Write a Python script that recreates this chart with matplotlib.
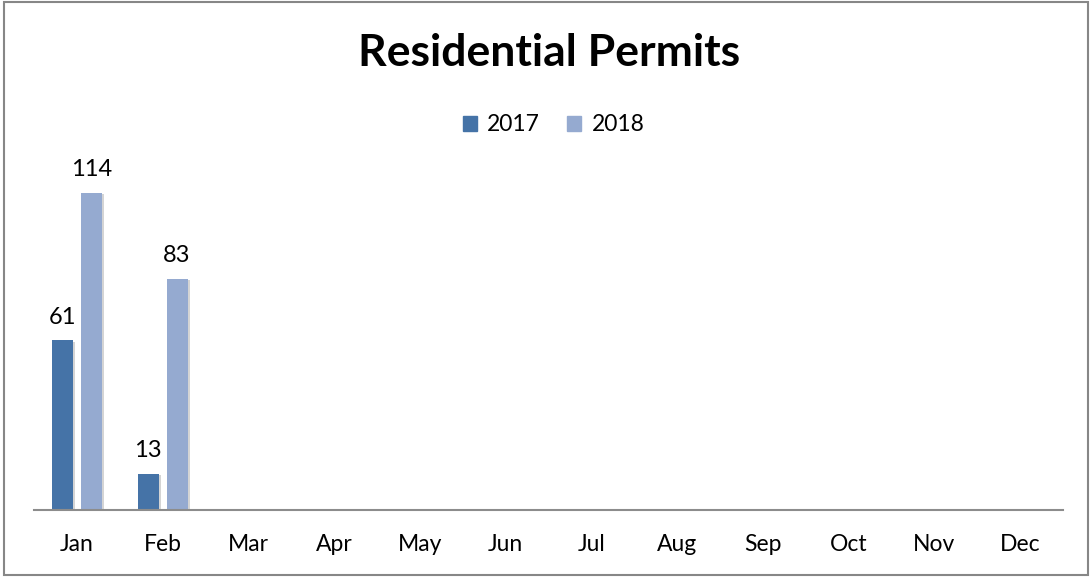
import matplotlib.pyplot as plt
import matplotlib.patheffects as pe
from matplotlib.patches import Rectangle, Patch
import numpy as np

# data
months = ['Jan', 'Feb', 'Mar', 'Apr', 'May', 'Jun', 'Jul', 'Aug', 'Sep', 'Oct', 'Nov', 'Dec']
permits_2017 = [61, 13]
permits_2018 = [114, 83]

plt.rcParams['font.family'] = ['Lato', 'DejaVu Sans']

W, H = 1092, 577
fig = plt.figure(figsize=(W / 100, H / 100), dpi=100)
ax = fig.add_axes([34 / W, (H - 510) / H, (1063 - 34) / W, (510 - 176) / H])

c17 = '#4573a7'
c18 = '#95aad0'
width = 0.245
shadow = [pe.SimplePatchShadow(offset=(1.5, -1), shadow_rgbFace='#b8b8b8', alpha=0.6), pe.Normal()]

x17 = np.arange(len(permits_2017))
x18 = np.arange(len(permits_2018))
b1 = ax.bar(x17 - 0.169, permits_2017, width, color=c17, path_effects=shadow)
b2 = ax.bar(x18 + 0.169, permits_2018, width, color=c18, path_effects=shadow)

for bars in (b1, b2):
    for r in bars:
        ax.annotate(f'{int(r.get_height())}', (r.get_x() + r.get_width() / 2, r.get_height()),
                    xytext=(0, 9), textcoords='offset points', ha='center', va='bottom', fontsize=17)

ax.set_xlim(-0.5, len(months) - 0.5)
ax.set_ylim(0, 120)
ax.set_xticks(range(len(months)))
ax.set_xticklabels(months, fontsize=16.5)
ax.tick_params(axis='x', length=0, pad=17)
ax.set_yticks([])
for s in ['top', 'right', 'left']:
    ax.spines[s].set_visible(False)
ax.spines['bottom'].set_color('#8c8c8c')
ax.spines['bottom'].set_linewidth(1.5)

fig.text(0.503, 1 - 53 / H, 'Residential Permits', ha='center', va='center', fontsize=32, fontweight='bold')
handles = [Patch(color=c17, label='2017'), Patch(color=c18, label='2018')]
fig.legend(handles=handles, loc='center', bbox_to_anchor=(0.507, 1 - 125 / H), ncol=2, frameon=False,
           fontsize=16.5, handlelength=0.6, handleheight=0.6, handletextpad=0.45, columnspacing=1.2)

fig.add_artist(Rectangle((4 / W, 2 / H), 1084 / W, 573 / H, transform=fig.transFigure,
                         fill=False, edgecolor='#878787', linewidth=1.5))

fig.savefig('out.png', dpi=100)
